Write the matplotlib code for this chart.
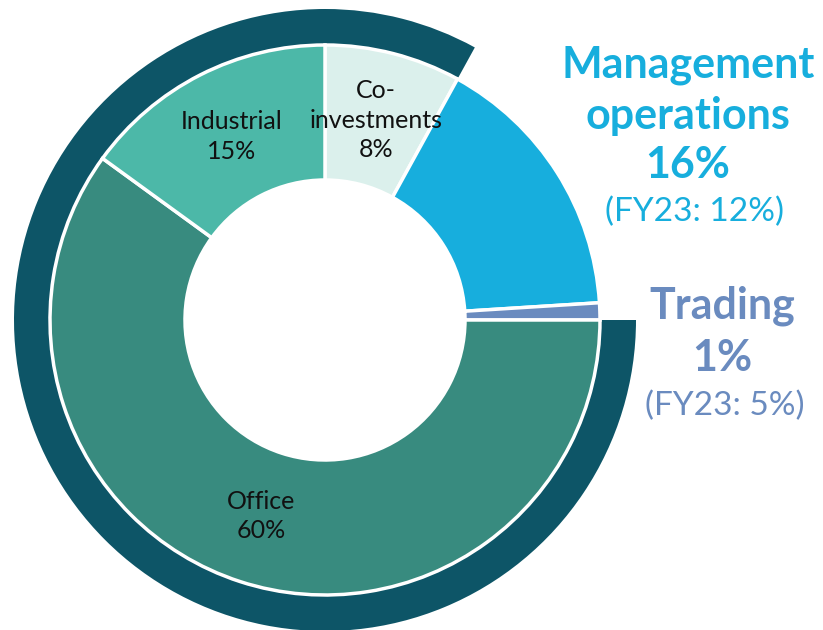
import matplotlib.pyplot as plt

# Daten
segments = ['Co-\ninvestments', 'Management operations', 'Trading', 'Office', 'Industrial']
shares = [8, 16, 1, 60, 15]
colors = ['#dbf0ec', '#17aedd', '#6a8bbf', '#388b7f', '#4cb8a8']
inner_labels = ['Co-\ninvestments\n8%', '', '', 'Office\n60%', 'Industrial\n15%']

fy23_mgmt = 12
fy23_trading = 5

plt.rcParams['font.family'] = ['Lato', 'DejaVu Sans']

fig = plt.figure(figsize=(8.23, 6.3), dpi=100)
ax = fig.add_axes([0, 0, 1, 1])

cx, cy = 325, 310
R = 275

# Außenring: Co-Investments + Office + Industrial
ring_vals = [shares[0], shares[1] + shares[2], shares[3] + shares[4]]
ax.pie(ring_vals, radius=311, center=(cx, cy), startangle=90, counterclock=False,
       colors=['#0d5567', 'none', '#0d5567'],
       wedgeprops=dict(width=37, linewidth=0))

# Innerer Donut
ax.pie(shares, radius=R, center=(cx, cy), startangle=90, counterclock=False,
       colors=colors, labels=inner_labels, labeldistance=0.75,
       textprops=dict(fontsize=18, color='#111111', ha='center', va='center',
                      linespacing=1.35),
       wedgeprops=dict(width=135, edgecolor='white', linewidth=2.5))

# Beschriftungen rechts
mgmt_c = colors[1]
ax.text(688, 630 - 65, 'Management', color=mgmt_c, fontsize=31, fontweight='bold',
        ha='center', va='center')
ax.text(688, 630 - 116, 'operations', color=mgmt_c, fontsize=31, fontweight='bold',
        ha='center', va='center')
ax.text(688, 630 - 165, f'{shares[1]}%', color=mgmt_c, fontsize=31, fontweight='bold',
        ha='center', va='center')
ax.text(695, 630 - 212, f'(FY23: {fy23_mgmt}%)', color=mgmt_c, fontsize=24,
        ha='center', va='center')

tr_c = colors[2]
ax.text(722, 630 - 306, 'Trading', color=tr_c, fontsize=31, fontweight='bold',
        ha='center', va='center')
ax.text(722, 630 - 358, f'{shares[2]}%', color=tr_c, fontsize=31, fontweight='bold',
        ha='center', va='center')
ax.text(725, 630 - 406, f'(FY23: {fy23_trading}%)', color=tr_c, fontsize=24,
        ha='center', va='center')

ax.set_xlim(0, 823)
ax.set_ylim(0, 630)
ax.set_aspect('equal')
ax.axis('off')

fig.savefig('out.png', dpi=100)
